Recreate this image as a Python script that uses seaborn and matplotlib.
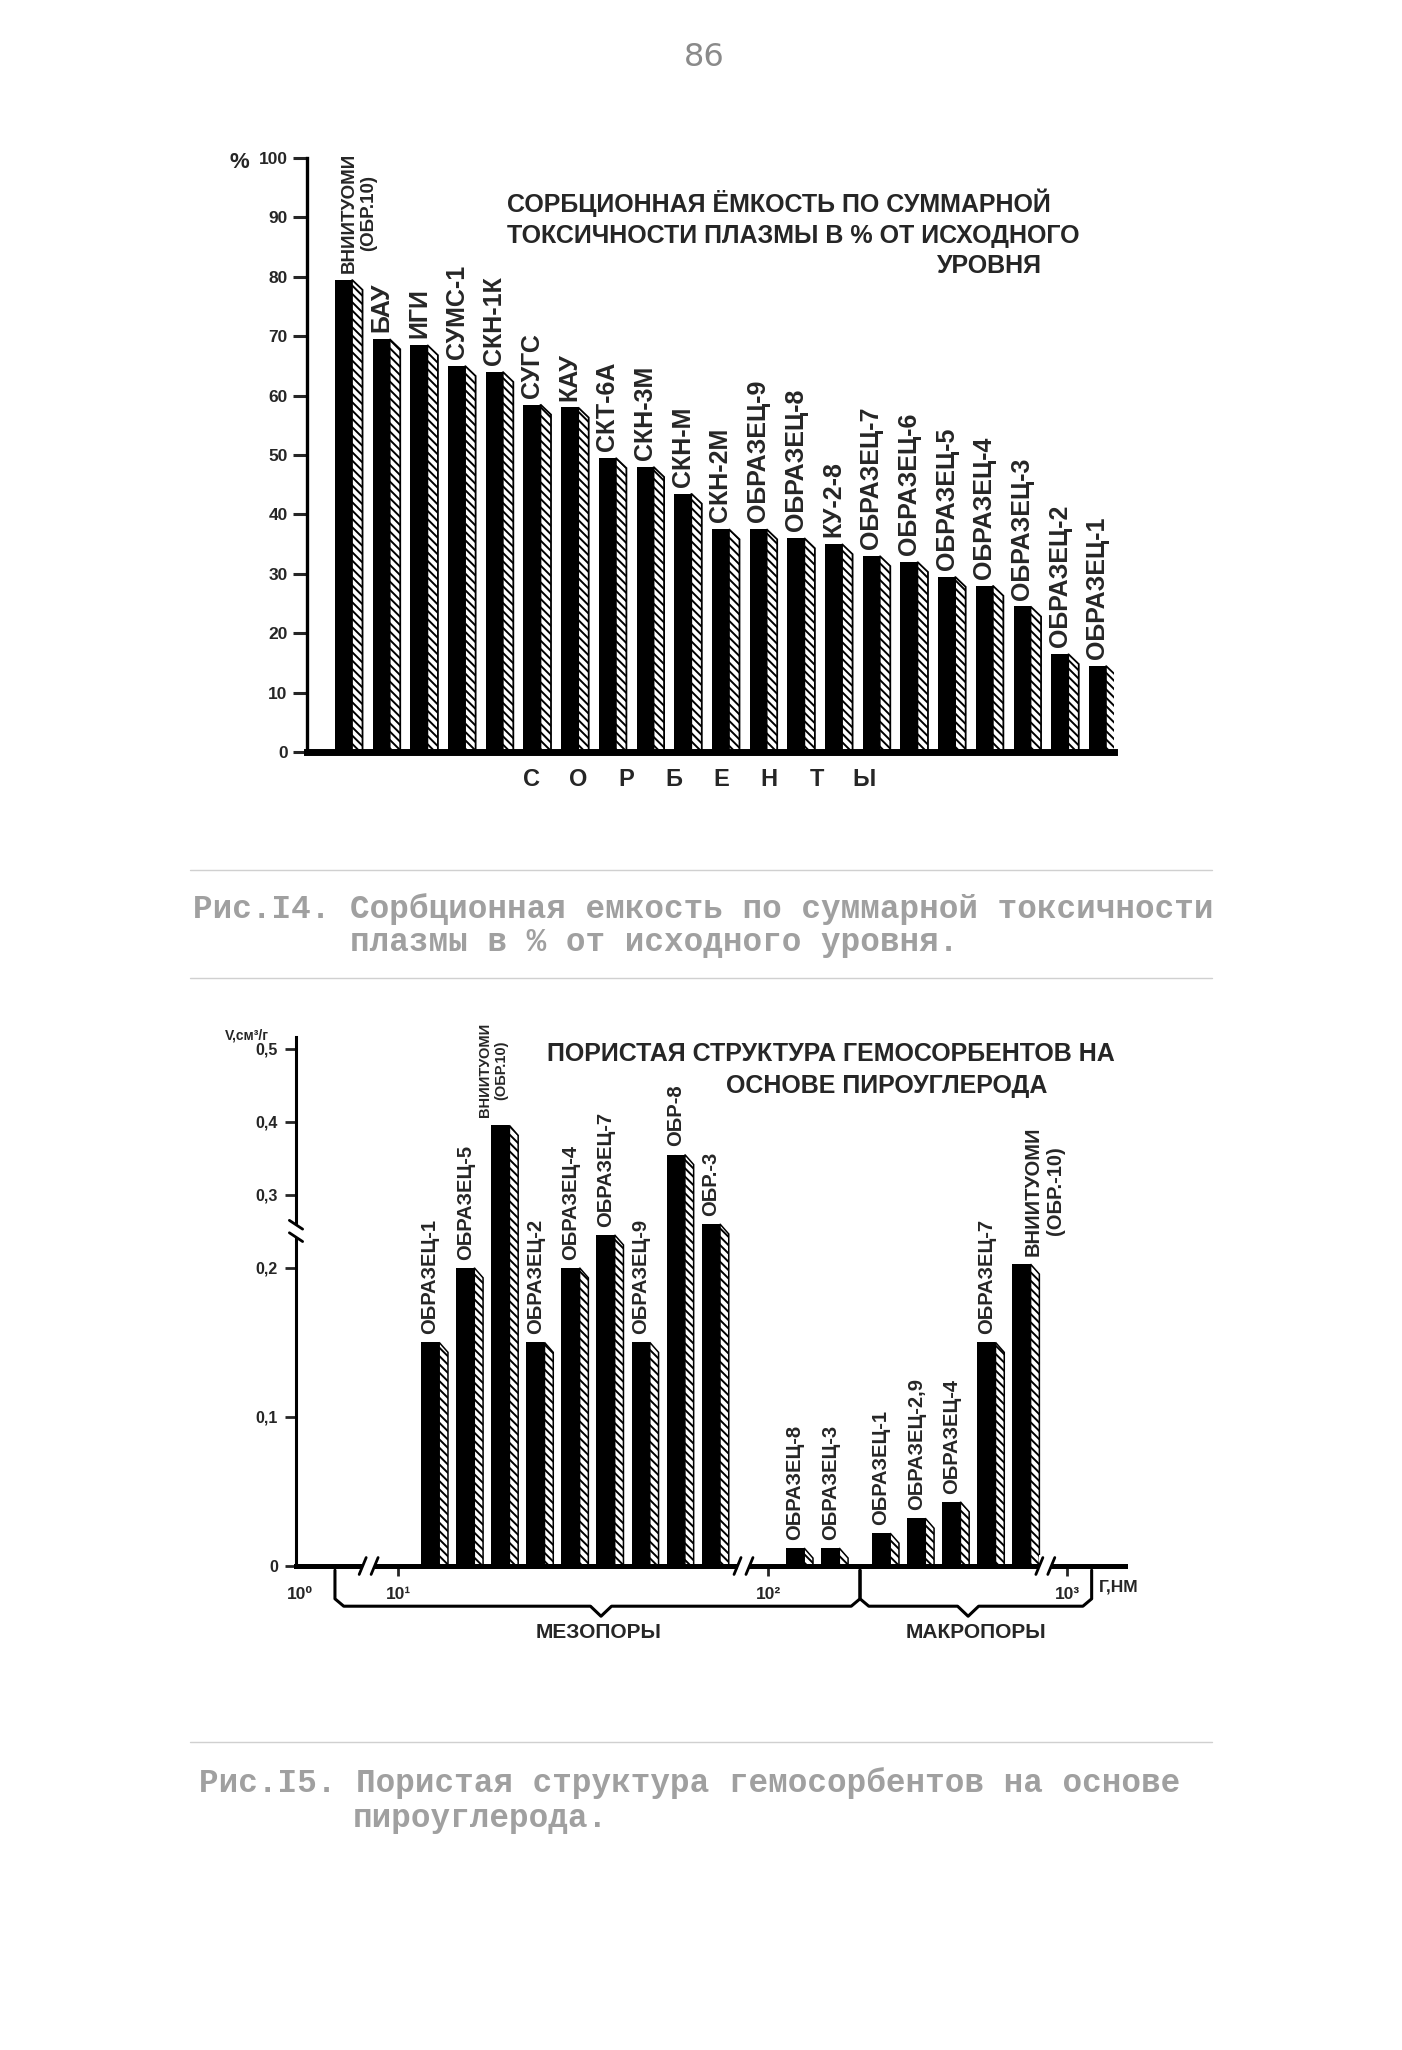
import numpy as np
import pandas as pd
import matplotlib
matplotlib.use('Agg')
import matplotlib.pyplot as plt
import matplotlib.transforms as mtransforms
from matplotlib.patches import Polygon, Rectangle
from matplotlib.lines import Line2D
import seaborn as sns

# ---- рис.14: сорбционная ёмкость, % от исходного уровня
sorbents = ['ВНИИТУОМИ\n(ОБР.10)', 'БАУ', 'ИГИ', 'СУМС-1', 'СКН-1К', 'СУГС', 'КАУ',
            'СКТ-6А', 'СКН-3М', 'СКН-М', 'СКН-2М', 'ОБРАЗЕЦ-9', 'ОБРАЗЕЦ-8', 'КУ-2-8',
            'ОБРАЗЕЦ-7', 'ОБРАЗЕЦ-6', 'ОБРАЗЕЦ-5', 'ОБРАЗЕЦ-4', 'ОБРАЗЕЦ-3',
            'ОБРАЗЕЦ-2', 'ОБРАЗЕЦ-1']
capacity = [79.5, 69.5, 68.5, 65, 64, 58.5, 58, 49.5, 48, 43.5, 37.5, 37.5, 36, 35,
            33, 32, 29.5, 28, 24.5, 16.5, 14.5]
capacity_ticks = [0, 10, 20, 30, 40, 50, 60, 70, 80, 90, 100]

# ---- рис.15: пористая структура (V, см3/г)
meso_labels = ['ОБРАЗЕЦ-1', 'ОБРАЗЕЦ-5', 'ВНИИТУОМИ\n(ОБР.10)', 'ОБРАЗЕЦ-2', 'ОБРАЗЕЦ-4',
               'ОБРАЗЕЦ-7', 'ОБРАЗЕЦ-9', 'ОБР-8', 'ОБР.-3']
meso_volume = [0.15, 0.2, 0.395, 0.15, 0.2, 0.245, 0.15, 0.355, 0.26]
mid_labels = ['ОБРАЗЕЦ-8', 'ОБРАЗЕЦ-3']
mid_volume = [0.012, 0.012]
macro_labels = ['ОБРАЗЕЦ-1', 'ОБРАЗЕЦ-2,9', 'ОБРАЗЕЦ-4', 'ОБРАЗЕЦ-7', 'ВНИИТУОМИ\n(ОБР.-10)']
macro_volume = [0.022, 0.032, 0.043, 0.15, 0.205]
volume_ticks = [0, 0.1, 0.2, 0.3, 0.4, 0.5]
volume_ticklabels = ['0', '0,1', '0,2', '0,3', '0,4', '0,5']
size_ticklabels = ['10⁰', '10¹', '10²', '10³']

sns.set_style('white')
plt.rcParams['font.family'] = ['DejaVu Sans Condensed', 'Liberation Sans', 'DejaVu Sans']
plt.rcParams['font.stretch'] = 'condensed'
plt.rcParams['hatch.linewidth'] = 1.4

W, H = 1402, 2050
def fx(x):
    return x / W
def fy(y):
    return 1 - y / H

fig = plt.figure(figsize=(W / 100, H / 100), dpi=100)
fig.patch.set_facecolor('white')

HATCH = '\\\\\\\\'

# ======================= верхний график =======================
ax1 = fig.add_axes([fx(307), fy(752), (1114 - 307) / W, (752 - 158) / H])
df_top = pd.DataFrame({'sorbent': sorbents, 'capacity': capacity})
bw1, sw1 = 0.45, 0.28
sns.barplot(data=df_top, x='sorbent', y='capacity', color='black', saturation=1,
            width=bw1, errorbar=None, linewidth=0, ax=ax1)
for i, (lab, val) in enumerate(zip(sorbents, capacity)):
    xr = i + bw1 / 2
    ax1.add_patch(Polygon([(xr, 0), (xr, val), (xr + sw1, val - 1.7), (xr + sw1, 0)],
                          closed=True, facecolor='white', edgecolor='black', lw=1.3,
                          hatch=HATCH, zorder=1.5))
    fs = 13.5 if '\n' in lab else 18
    xo = 0.42 if '\n' in lab else 0
    ax1.annotate(lab, (i + xo, val), xytext=(0, 5), textcoords='offset points', rotation=90,
                 ha='center', va='bottom', multialignment='center',
                 fontsize=fs, fontweight='bold')
ax1.set_xlim(-0.968, 20.44)
ax1.set_ylim(0, 100)
ax1.set_xticks([])
ax1.set_yticks(capacity_ticks)
ax1.set_yticklabels([str(t) for t in capacity_ticks], fontsize=12.5, fontweight='bold')
ax1.tick_params(axis='y', direction='out', length=10, width=2.2, pad=4, left=True)
ax1.set_xlabel('')
ax1.set_ylabel('')
for s in ['top', 'right']:
    ax1.spines[s].set_visible(False)
ax1.spines['left'].set_linewidth(2.4)
ax1.spines['bottom'].set_linewidth(5)
ax1.spines['left'].set_color('black')
ax1.spines['bottom'].set_color('black')
ax1.patch.set_alpha(0)

fig.text(fx(239), fy(163), '%', fontsize=16, fontweight='bold', ha='center', va='center')
title_kw = dict(fontsize=18, fontweight='bold', va='center')
fig.text(fx(507), fy(203), 'СОРБЦИОННАЯ ЁМКОСТЬ ПО СУММАРНОЙ', ha='left', **title_kw)
fig.text(fx(507), fy(236), 'ТОКСИЧНОСТИ ПЛАЗМЫ В % ОТ ИСХОДНОГО', ha='left', **title_kw)
fig.text(fx(1042), fy(266), 'УРОВНЯ', ha='right', **title_kw)
# подпись оси x разрядкой: буквы через равный шаг
for k, ch in enumerate('СОРБЕНТЫ'):
    fig.text(fx(531 + k * 47.6), fy(779), ch, fontsize=17, fontweight='heavy',
             ha='center', va='center')

# ======================= нижний график =======================
ax2 = fig.add_axes([fx(296), fy(1566), (1125 - 296) / W, (1566 - 1037) / H])
slot_x = list(range(len(meso_volume))) + [10.4, 11.4] + [12.85 + i for i in range(len(macro_volume))]
df_bot = pd.DataFrame({'slot': slot_x,
                       'volume': meso_volume + mid_volume + macro_volume,
                       'label': meso_labels + mid_labels + macro_labels})
bw2, sw2 = 0.52, 0.25
sns.barplot(data=df_bot, x='slot', y='volume', native_scale=True, orient='x',
            color='black', saturation=1, width=bw2, errorbar=None, linewidth=0, ax=ax2)

brk_lo, brk_k = 0.2, 0.49
def fwd(y):
    y = np.asarray(y, dtype=float)
    return np.where(y <= brk_lo, y, brk_lo + (y - brk_lo) * brk_k)
def inv(s):
    s = np.asarray(s, dtype=float)
    return np.where(s <= brk_lo, s, brk_lo + (s - brk_lo) / brk_k)
ax2.set_yscale('function', functions=(fwd, inv))
ax2.set_ylim(0, 0.516)
ax2.set_xlim(-3.82, 19.8)

for k, r in df_bot.iterrows():
    xr = r['slot'] + bw2 / 2
    top2 = float(inv(fwd(r['volume']) - 0.0067))
    ax2.add_patch(Polygon([(xr, 0), (xr, r['volume']), (xr + sw2, top2), (xr + sw2, 0)],
                          closed=True, facecolor='white', edgecolor='black', lw=1.1,
                          hatch=HATCH, zorder=1.5))
    fs, xo = 14.5, 0
    if '\n' in r['label']:
        # первая ВНИИТУОМИ подписана мелко и сдвинута влево, вторая — правее
        fs, xo = (10.5, -0.2) if k < len(meso_volume) else (14.5, 0.65)
    ax2.annotate(r['label'], (r['slot'] + xo, r['volume']), xytext=(0, 6),
                 textcoords='offset points', rotation=90, ha='center', va='bottom',
                 multialignment='center', fontsize=fs, fontweight='bold')

ax2.set_yticks(volume_ticks)
ax2.set_yticklabels(volume_ticklabels, fontsize=11.5, fontweight='bold')
ax2.yaxis.set_minor_locator(matplotlib.ticker.NullLocator())
ax2.tick_params(axis='y', direction='out', length=8, width=2, pad=5, left=True)
size_tick_x = [-3.7, -0.91, 9.63, 18.15]
ax2.set_xticks(size_tick_x)
ax2.set_xticklabels(size_ticklabels, fontsize=12.5, fontweight='bold')
ax2.tick_params(axis='x', direction='out', length=7, width=2, pad=8, bottom=True)
ax2.xaxis.get_major_ticks()[0].tick1line.set_visible(False)
ax2.set_xlabel('')
ax2.set_ylabel('')
for s in ['top', 'right']:
    ax2.spines[s].set_visible(False)
ax2.spines['left'].set_linewidth(2.2)
ax2.spines['bottom'].set_linewidth(3.6)
ax2.spines['left'].set_color('black')
ax2.spines['bottom'].set_color('black')
ax2.patch.set_alpha(0)

# разрывы оси x
bt = mtransforms.blended_transform_factory(ax2.transData, ax2.transAxes)
for xb in [-1.75, 8.93, 17.53]:
    ax2.add_patch(Rectangle((xb - 0.17, -0.02), 0.34, 0.04, transform=bt,
                            facecolor='white', edgecolor='none', clip_on=False, zorder=3))
    for d in (-0.17, 0.17):
        ax2.add_line(Line2D([xb + d - 0.1, xb + d + 0.1], [-0.016, 0.016], transform=bt,
                            color='black', lw=2, clip_on=False, zorder=4))
# разрыв оси y
bt_y = mtransforms.blended_transform_factory(ax2.transAxes, ax2.transData)
ax2.add_patch(Rectangle((-0.01, 0.242), 0.02, 0.017, transform=bt_y,
                        facecolor='white', edgecolor='none', clip_on=False, zorder=3))
for yb in (0.242, 0.259):
    ax2.add_line(Line2D([-0.008, 0.008], [yb + 0.006, yb - 0.006], transform=bt_y,
                        color='black', lw=2, clip_on=False, zorder=4))

# фигурные скобки: мезопоры / макропоры
def brace(x0, x1, xt):
    ys = [-0.008, -0.062, -0.076, -0.076, -0.095, -0.076, -0.076, -0.062, -0.008]
    xs = [x0, x0, x0 + 0.25, xt - 0.3, xt, xt + 0.3, x1 - 0.25, x1, x1]
    ax2.add_line(Line2D(xs, ys, transform=bt, color='black', lw=2.2, clip_on=False,
                        solid_joinstyle='round'))
brace(-2.71, 12.25, 4.87)
brace(12.25, 18.85, 15.33)

fig.text(fx(1099), fy(1587), 'Г,НМ', fontsize=12.5, fontweight='bold', ha='left', va='center')
fig.text(fx(599), fy(1633), 'МЕЗОПОРЫ', fontsize=15, fontweight='bold', ha='center', va='center')
fig.text(fx(976), fy(1633), 'МАКРОПОРЫ', fontsize=15, fontweight='bold', ha='center', va='center')
fig.text(fx(247), fy(1036), 'V,см³/г', fontsize=10, fontweight='bold', ha='center', va='center')
fig.text(fx(547), fy(1054), 'ПОРИСТАЯ СТРУКТУРА ГЕМОСОРБЕНТОВ НА', ha='left', **title_kw)
fig.text(fx(726), fy(1086), 'ОСНОВЕ ПИРОУГЛЕРОДА', ha='left', **title_kw)

# ======================= страница: номер, подписи =======================
fig.text(fx(704), fy(57), '86', fontsize=23, color='#8a8a8a', ha='center', va='center',
         family='DejaVu Sans', stretch='normal')
cap_kw = dict(fontsize=23.5, color='#a0a0a0', fontweight='bold', va='center',
              family='Liberation Mono', stretch='normal', ha='left')
fig.text(fx(193), fy(909), 'Рис.I4. Сорбционная емкость по суммарной токсичности', **cap_kw)
fig.text(fx(350), fy(942), 'плазмы в % от исходного уровня.', **cap_kw)
fig.text(fx(199), fy(1783), 'Рис.I5. Пористая структура гемосорбентов на основе', **cap_kw)
fig.text(fx(353), fy(1818), 'пироуглерода.', **cap_kw)
for ys in (870, 978, 1742):
    fig.add_artist(Line2D([fx(190), fx(1212)], [fy(ys), fy(ys)], color='#d0d0d0', lw=1))

fig.savefig('out.png', dpi=100, facecolor='white')
